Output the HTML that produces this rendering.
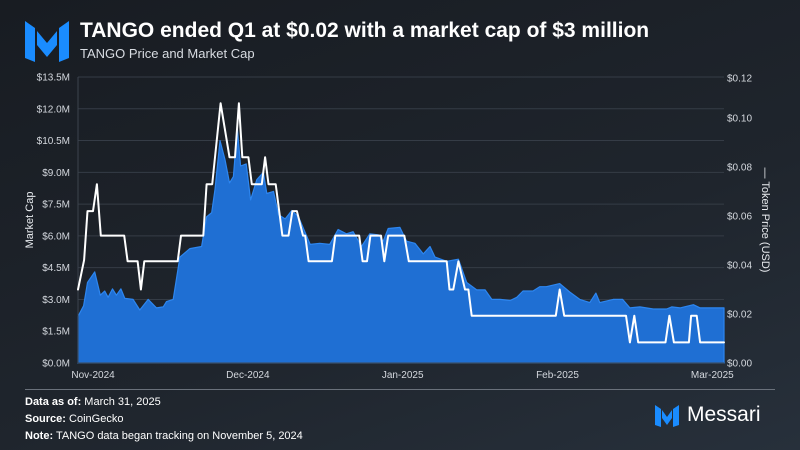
<!DOCTYPE html>
<html><head><meta charset="utf-8">
<style>
html,body{margin:0;padding:0}
body{width:800px;height:450px;overflow:hidden;background:linear-gradient(160deg,#181c22 0%,#1f252d 60%,#27303b 100%);font-family:"Liberation Sans",sans-serif;color:#fff;position:relative}
.t{position:absolute;white-space:nowrap}
</style></head><body>
<svg style="position:absolute;left:0;top:0" width="80" height="70">
<polygon points="25,21 35,28 35,62 25,58" fill="#1a8cff"/>
<polygon points="37,31 47,43 57,31 57,45 47,57 37,45" fill="#1a8cff"/>
<polygon points="59,28 69,21 69,58 59,62" fill="#1a8cff"/>
</svg>
<div class="t" style="left:80px;top:19px;font-size:21px;font-weight:bold">TANGO ended Q1 at $0.02 with a market cap of $3 million</div>
<div class="t" style="left:80px;top:46px;font-size:13px;color:#d8dce2">TANGO Price and Market Cap</div>

<svg id="chart" style="position:absolute;left:0;top:0" width="800" height="450"></svg>

<div style="position:absolute;left:25px;top:389px;width:750px;height:1px;background:#6a717b"></div>
<div class="t" style="left:25px;top:396px;font-size:11px"><b>Data as of:</b> March 31, 2025</div>
<div class="t" style="left:25px;top:413px;font-size:11px"><b>Source:</b> CoinGecko</div>
<div class="t" style="left:25px;top:430px;font-size:11px"><b>Note:</b> TANGO data began tracking on November 5, 2024</div>
<svg style="position:absolute;left:650px;top:400px" width="40" height="30">
<polygon points="5,5 11,9 11,27 5,25" fill="#1a8cff"/>
<polygon points="12,10 17,17 22,10 22,18 17,25 12,18" fill="#1a8cff"/>
<polygon points="23,9 29,5 29,25 23,27" fill="#1a8cff"/>
</svg>
<div class="t" style="left:687px;top:403px;font-size:21px">Messari</div>

<script>
const mcDays=[0,1,1.7,3,4,4.8,5.4,6.2,6.9,7.7,8.4,9.9,11.1,12.6,14.1,15.3,15.9,17.1,18.3,20.1,22.2,23.1,24,24.6,25.5,26.4,27.2,27.9,28.6,29.2,30.2,31,32.1,33.3,33.9,35.1,36,37.2,38.4,39.6,41.7,43.4,45.2,46.7,48.2,49.4,50.9,52.4,53.9,54.8,55.7,57.8,59,60.5,62,63.2,64.1,66.2,68.3,69.8,71.6,73.1,74.3,75.8,77.6,78.8,79.9,81.7,82.9,84.1,86.5,88.3,90.1,91.9,93,93.7,96.1,97.8,99.1,100.9,103.3,105.7,106.6,108.1,110.5,111.7,116];
const mcValues=[2.2,2.7,3.8,4.3,3.2,3.4,3.1,3.5,3.2,3.5,3.05,3.0,2.5,3.0,2.6,2.65,2.9,3.0,5.0,5.4,5.5,6.9,7.1,8.2,10.5,9.6,8.5,8.8,11.1,9.3,9.4,7.7,8.65,9.0,8.0,8.1,7.0,6.8,7.2,6.9,5.6,5.65,5.6,6.3,6.1,6.2,5.5,6.1,6.05,5.75,6.35,6.4,5.75,5.65,5.15,5.5,5.0,4.8,4.9,3.8,3.45,3.45,3.0,3.0,2.95,3.1,3.4,3.4,3.6,3.6,3.75,3.35,3.0,2.85,3.3,2.85,3.0,3.0,2.6,2.65,2.55,2.55,2.65,2.6,2.75,2.6,2.6];
const priceDays=[0,1.1,1.7,2.7,3.4,4.1,8.3,8.9,10.7,11.3,11.9,17.9,18.5,22.5,23.1,24.1,25.6,27.2,28.2,28.9,29.5,30.6,31.2,33,33.6,34.2,35.5,36.7,37.8,38.5,39.3,40.4,40.8,41.4,45.6,46.2,50.5,51.1,51.9,52.5,54.4,55,55.7,58.6,59.4,66.2,66.7,67.4,68.3,69.5,70.1,70.7,85.8,86.5,87.3,98.4,99.1,99.9,100.6,105.5,106.2,107,109.7,110.1,111.1,111.7,116];
const priceValues=[0.030,0.042,0.062,0.062,0.073,0.052,0.052,0.0415,0.0415,0.030,0.0415,0.0415,0.052,0.052,0.073,0.073,0.106,0.084,0.084,0.106,0.084,0.084,0.073,0.073,0.084,0.073,0.073,0.052,0.052,0.062,0.062,0.052,0.052,0.0415,0.0415,0.052,0.052,0.0415,0.0415,0.052,0.052,0.0415,0.052,0.052,0.0415,0.0415,0.030,0.030,0.0415,0.030,0.030,0.0193,0.0193,0.030,0.0193,0.0193,0.0084,0.0193,0.0084,0.0084,0.0193,0.0084,0.0084,0.0193,0.0193,0.0084,0.0084];
const leftTicks=[0,1.5,3,4.5,6,7.5,9,10.5,12,13.5];
const leftTickLabels=["$0.0M","$1.5M","$3.0M","$4.5M","$6.0M","$7.5M","$9.0M","$10.5M","$12.0M","$13.5M"];
const rightTicks=[0,0.02,0.04,0.06,0.08,0.10,0.12];
const rightTickLabels=["$0.00","$0.02","$0.04","$0.06","$0.08","$0.10","$0.12"];
const xTickDays=[2.7,30.5,58.3,86.1,113.9];
const xTickLabels=["Nov-2024","Dec-2024","Jan-2025","Feb-2025","Mar-2025"];

const X0=78,X1=724,Y0=363,YT=77,DAYS=116;
const x=d=>X0+d/DAYS*(X1-X0);
const yL=v=>Y0-v/13.5*(Y0-YT);
const yR=p=>Y0-p/0.02*49;
const NS="http://www.w3.org/2000/svg";
const svg=document.getElementById('chart');
function mk(tag,attrs,parent){const e=document.createElementNS(NS,tag);for(const k in attrs)e.setAttribute(k,attrs[k]);(parent||svg).appendChild(e);return e;}

leftTicks.forEach((v,i)=>{
  if(v>0){const g=mk('line',{x1:X0,x2:X1,y1:yL(v),y2:yL(v),stroke:'#353c46','stroke-width':1});
  
  }
  const t=mk('text',{x:70,y:yL(v)+3.5,'text-anchor':'end','font-size':10,fill:'#d4d8de'});
  t.textContent=leftTickLabels[i];
  
  
});
rightTicks.forEach((v,i)=>{
  const t=mk('text',{x:727,y:Math.max(yR(v),78)+3.5,'font-size':10,fill:'#d4d8de'});
  t.textContent=rightTickLabels[i];
  
  
});
xTickDays.forEach((d,i)=>{
  const t=mk('text',{x:x(d),y:378,'text-anchor':'middle','font-size':10,fill:'#d4d8de'});
  t.textContent=xTickLabels[i];
  
  
});

let d='M'+x(mcDays[0])+','+Y0;
mcDays.forEach((dd,i)=>{d+=' L'+x(dd).toFixed(1)+','+yL(mcValues[i]).toFixed(1);});
d+=' L'+x(mcDays[mcDays.length-1])+','+Y0+' Z';
const area=mk('path',{d:d,fill:'#1f6fd3',stroke:'#2d86f0','stroke-width':1.2,'stroke-linejoin':'round'});



const ax=mk('line',{x1:X0,x2:X1,y1:Y0,y2:Y0,stroke:'#3c434d','stroke-width':1});


const ay=mk('line',{x1:X0,x2:X0,y1:YT,y2:Y0,stroke:'#3c434d','stroke-width':1});



let pd='';
priceDays.forEach((dd,i)=>{pd+=(i?' L':'M')+x(dd).toFixed(1)+','+yR(priceValues[i]).toFixed(1);});
const line=mk('path',{d:pd,fill:'none',stroke:'#ffffff','stroke-width':2,'stroke-linejoin':'round','stroke-linecap':'round'});



const lt=mk('text',{x:0,y:0,'font-size':11,fill:'#e8ebef','text-anchor':'middle',transform:'translate(33,220) rotate(-90)'});
lt.textContent='Market Cap';


const rt=mk('text',{x:0,y:0,'font-size':11,fill:'#e8ebef','text-anchor':'middle',transform:'translate(762,220) rotate(90)'});
rt.textContent='— Token Price (USD)';


</script>
</body></html>
